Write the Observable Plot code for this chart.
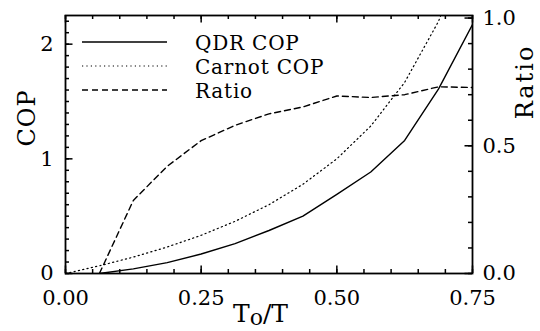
<!DOCTYPE html>
<html><head><meta charset="utf-8">
<script src="https://cdn.jsdelivr.net/npm/d3@7"></script>
<script src="https://cdn.jsdelivr.net/npm/@observablehq/plot@0.6"></script>
<style>
body{margin:0;background:#fff}
svg{font-family:"DejaVu Serif",serif}
</style>
</head><body><div id="chart"></div>
<script>
// ---- data ----
const toT = [0.0625, 0.125, 0.1875, 0.25, 0.3125, 0.375, 0.4375, 0.5, 0.5625, 0.625, 0.6875, 0.75];
const qdrCOP = [0, 0.04, 0.095, 0.17, 0.26, 0.375, 0.50, 0.69, 0.885, 1.16, 1.61, 2.17];
const ratio = [0, 0.286, 0.42, 0.52, 0.58, 0.625, 0.652, 0.695, 0.689, 0.70, 0.731, 0.728];
const carnotToT = [0, 0.0625, 0.125, 0.1875, 0.25, 0.3125, 0.375, 0.4375, 0.5, 0.5625, 0.625, 0.6875, 0.75];
const carnotCOP = [0, 0.067, 0.143, 0.231, 0.333, 0.455, 0.6, 0.778, 1.0, 1.286, 1.667, 2.2, 3.0];

const xTicks = [0, 0.25, 0.5, 0.75];
const xTickLabels = ["0.00", "0.25", "0.50", "0.75"];
const copTicks = [0, 1, 2];
const copTickLabels = ["0", "1", "2"];
const ratioTicks = [0, 0.5, 1.0];
const ratioTickLabels = ["0.0", "0.5", "1.0"];
const seriesNames = ["QDR COP", "Carnot COP", "Ratio"];

// ---- scales ----
const X_MAX = 0.75, COP_MAX = 2.25, RATIO_MAX = 1.01;
const k = COP_MAX / RATIO_MAX; // ratio -> COP axis units

const qdr = toT.map((x, i) => ({x, cop: qdrCOP[i], r: ratio[i]}));
const carnot = carnotToT.map((x, i) => ({x, cop: carnotCOP[i]}));

const minorX = d3.range(0, 0.7501, 0.05);
const minorCop = d3.range(0, 2.2501, 0.1);
const minorRatio = d3.range(0, 1.0001, 0.1).map(r => r * k);
const lookup = (arr, labels, scale = 1) => d => labels[arr.findIndex(v => Math.abs(v * scale - d) < 1e-9)];

const W = 540, H = 331;
const mL = 65, mR = 68, mT = 15, mB = 58;
const innerW = W - mL - mR, innerH = H - mT - mB;
const pxX = innerW / X_MAX, pxY = innerH / COP_MAX; // pixels per data unit

// inward tick marks drawn as short rules (length given in pixels)
const tick = (data, side, len) => {
  const o = {stroke: "black", strokeWidth: 1.5};
  if (side === "bottom") return Plot.ruleX(data, {x: d => d, y1: 0, y2: len / pxY, ...o});
  if (side === "top") return Plot.ruleX(data, {x: d => d, y1: COP_MAX, y2: COP_MAX - len / pxY, ...o});
  if (side === "left") return Plot.ruleY(data, {y: d => d, x1: 0, x2: len / pxX, ...o});
  return Plot.ruleY(data, {y: d => d, x1: X_MAX, x2: X_MAX - len / pxX, ...o});
};

const plot = Plot.plot({
  width: W, height: H,
  marginLeft: mL, marginRight: mR, marginTop: mT, marginBottom: mB,
  x: {domain: [0, X_MAX], label: null},
  y: {domain: [0, COP_MAX], label: null},
  style: {fontFamily: "DejaVu Serif", fontSize: "21px", color: "black", background: "white", overflow: "visible"},
  marks: [
    Plot.line(carnot, {x: "x", y: "cop", stroke: "black", strokeWidth: 1.2, strokeDasharray: "1.2,3.2", clip: true}),
    Plot.line(qdr, {x: "x", y: "cop", stroke: "black", strokeWidth: 1.4, clip: true}),
    Plot.line(qdr, {x: "x", y: d => d.r * k, stroke: "black", strokeWidth: 1.4, strokeDasharray: "6,4", clip: true}),
    // inward ticks
    tick(minorX, "bottom", 4), tick(minorX, "top", 4),
    tick(xTicks, "bottom", 7.5), tick(xTicks, "top", 7.5),
    tick(minorCop, "left", 4), tick(copTicks, "left", 7.5),
    tick(minorRatio, "right", 4), tick(ratioTicks.map(r => r * k), "right", 7.5),
    // tick labels
    Plot.axisX(xTicks, {anchor: "bottom", tickSize: 0, tickPadding: 17, tickFormat: lookup(xTicks, xTickLabels), label: null}),
    Plot.axisY(copTicks, {anchor: "left", tickSize: 0, tickPadding: 12, tickFormat: lookup(copTicks, copTickLabels), label: null}),
    Plot.axisY(ratioTicks.map(r => r * k), {anchor: "right", tickSize: 0, tickPadding: 10, tickFormat: lookup(ratioTicks, ratioTickLabels, k), label: null}),
    Plot.frame({stroke: "black", strokeWidth: 1.8})
  ]
});
document.getElementById("chart").append(plot);

// ---- titles & legend ----
const svg = d3.select(plot);
svg.append("text").attr("transform", "translate(27,118) rotate(-90)")
  .attr("text-anchor", "middle").attr("dominant-baseline", "central")
  .attr("font-size", 24).attr("letter-spacing", 1).attr("fill", "black").text("COP");
svg.append("text").attr("transform", "translate(525,82) rotate(-90)")
  .attr("text-anchor", "middle").attr("dominant-baseline", "central")
  .attr("font-size", 24).attr("letter-spacing", 2).attr("fill", "black").text("Ratio");
const xl = svg.append("text").attr("x", 233).attr("y", 322).attr("text-anchor", "start")
  .attr("font-size", 25).attr("fill", "black");
xl.append("tspan").text("T");
xl.append("tspan").attr("dy", 3).attr("font-size", 22).text("o");
xl.append("tspan").attr("dy", -3).text("/T");

const dashes = [null, "1.2,3.2", "6,4"];
seriesNames.forEach((name, i) => {
  const yLine = 42 + 24 * i;
  svg.append("line").attr("x1", 82).attr("x2", 167).attr("y1", yLine).attr("y2", yLine)
    .attr("stroke", "black").attr("stroke-width", i === 1 ? 1.2 : 1.4)
    .attr("stroke-dasharray", dashes[i]);
  svg.append("text").attr("x", 195).attr("y", 50 + 24 * i).attr("text-anchor", "start")
    .attr("font-size", 20).attr("letter-spacing", 0.8).attr("fill", "black").text(name);
});
</script>
</body></html>
